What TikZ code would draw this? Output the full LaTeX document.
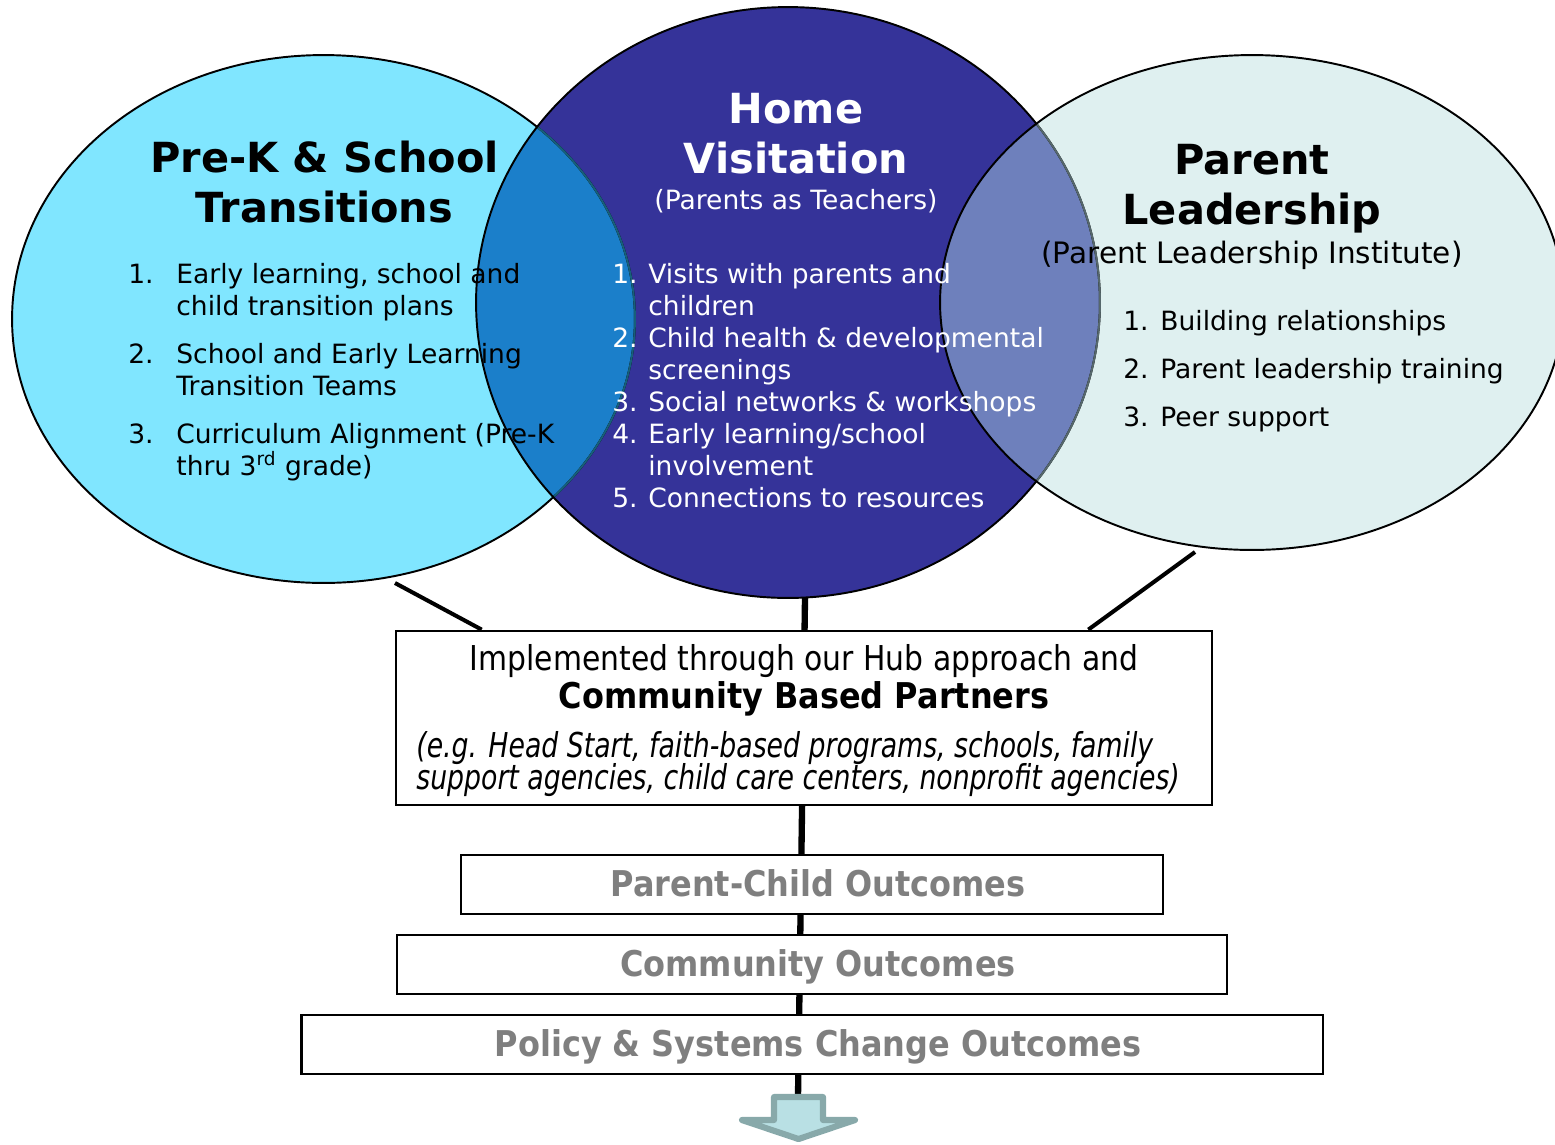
\documentclass[tikz,border=0pt]{standalone}
\usepackage{fontspec}
\setmainfont{DejaVu Sans}
\newfontfamily\hubfont[FakeStretch=0.87]{DejaVu Sans}
\newfontfamily\hubboldfont[FakeStretch=0.9]{DejaVu Sans}
\newfontfamily\hubitfont[FakeStretch=0.78]{DejaVu Sans}
\usepackage{tikz}
\usetikzlibrary{calc}
\pgfdeclarelayer{background}
\pgfsetlayers{background,main}

\definecolor{prekfill}{HTML}{80E6FF}
\definecolor{homefill}{HTML}{353399}
\definecolor{leadfill}{HTML}{DFF0F0}
\definecolor{prekhome}{HTML}{1B7FCA}
\definecolor{homelead}{HTML}{6E80BC}
\definecolor{prekedge}{HTML}{17607A}
\definecolor{homeedge}{HTML}{56686C}
\definecolor{outgray}{HTML}{7F7F7F}
\definecolor{arrowfill}{HTML}{B9E0E4}
\definecolor{arrowedge}{HTML}{88A9AA}

\tikzset{
  title/.style={anchor=base,inner sep=0pt,font=\bfseries\fontsize{23.6}{28}\selectfont},
  sub/.style={anchor=base,inner sep=0pt,font=\fontsize{15.1}{18}\selectfont},
  num/.style={anchor=base west,inner sep=0pt,font=\fontsize{15.1}{18}\selectfont},
  item/.style={anchor=base west,inner sep=0pt,font=\fontsize{15.1}{18}\selectfont},
  hubline/.style={anchor=base,inner sep=0pt,font=\hubfont\fontsize{19.5}{22}\selectfont},
  hubitline/.style={anchor=base west,inner sep=0pt,font=\hubitfont\itshape\fontsize{19.5}{22}\selectfont},
  hubbox/.style={draw,line width=1.6pt,fill=white,inner sep=0pt,
    minimum width=16.32cm,minimum height=3.48cm},
  outbox/.style={draw,line width=1.6pt,fill=white,inner sep=0pt,minimum height=1.18cm},
  outtext/.style={anchor=base,inner sep=0pt,text=outgray,
    font=\hubboldfont\bfseries\fontsize{20.2}{24}\selectfont},
  link/.style={line width=2.3pt},
  spine/.style={line width=3.6pt}
}

\begin{document}
\begin{tikzpicture}[x=0.02cm,y=-0.02cm]
\useasboundingbox (0,0) rectangle (1555,1144);
\clip (0,0) rectangle (1555,1144);

% the three circles
\fill[prekfill] (323.5,319) ellipse [x radius=6.23cm, y radius=5.28cm];
\fill[homefill] (788,302.5) ellipse [x radius=6.24cm, y radius=5.91cm];
\fill[leadfill] (1252,302.5) ellipse [x radius=6.24cm, y radius=4.95cm];
\begin{scope}
  \clip (323.5,319) ellipse [x radius=6.23cm, y radius=5.28cm];
  \fill[prekhome] (788,302.5) ellipse [x radius=6.24cm, y radius=5.91cm];
\end{scope}
\begin{scope}
  \clip (1252,302.5) ellipse [x radius=6.24cm, y radius=4.95cm];
  \fill[homelead] (788,302.5) ellipse [x radius=6.24cm, y radius=5.91cm];
\end{scope}
\draw[line width=1.1pt] (323.5,319) ellipse [x radius=6.23cm, y radius=5.28cm];
\begin{scope}
  \clip (788,302.5) ellipse [x radius=6.24cm, y radius=5.91cm];
  \draw[prekedge,line width=1.1pt] (323.5,319) ellipse [x radius=6.23cm, y radius=5.28cm];
\end{scope}
\draw[line width=1.1pt] (788,302.5) ellipse [x radius=6.24cm, y radius=5.91cm];
\begin{scope}
  \clip (1252,302.5) ellipse [x radius=6.24cm, y radius=4.95cm];
  \draw[homeedge,line width=1.1pt] (788,302.5) ellipse [x radius=6.24cm, y radius=5.91cm];
\end{scope}
\draw[line width=1.1pt] (1252,302.5) ellipse [x radius=6.24cm, y radius=4.95cm];

% Pre-K circle
\node[title] (prektitle1) at (324.5,172) {Pre-K \& School};
\node[title] (prektitle2) at (324.5,222) {Transitions};
\node[num] (prekn1) at (128,283) {1.};
\node[item] (prek1a) at (176,283) {Early learning, school and};
\node[item] (prek1b) at (176,315) {child transition plans};
\node[num] (prekn2) at (128,363) {2.};
\node[item] (prek2a) at (176,363) {School and Early Learning};
\node[item] (prek2b) at (176,395) {Transition Teams};
\node[num] (prekn3) at (128,443) {3.};
\node[item] (prek3a) at (176,443) {Curriculum Alignment (Pre-K};
\node[item] (prek3b) at (176,475) {thru 3\textsuperscript{rd} grade)};

% Home circle
\begin{scope}[text=white]
\node[title] (hometitle1) at (796,123) {Home};
\node[title] (hometitle2) at (796,173) {Visitation};
\node[sub] (homesub) at (796,209) {(Parents as Teachers)};
\node[num] (homen1) at (612,283) {1.};
\node[item] (home1a) at (648,283) {Visits with parents and};
\node[item] (home1b) at (648,315) {children};
\node[num] (homen2) at (612,347) {2.};
\node[item] (home2a) at (648,347) {Child health \& developmental};
\node[item] (home2b) at (648,379) {screenings};
\node[num] (homen3) at (612,411) {3.};
\node[item] (home3a) at (648,411) {Social networks \& workshops};
\node[num] (homen4) at (612,443) {4.};
\node[item] (home4a) at (648,443) {Early learning/school};
\node[item] (home4b) at (648,475) {involvement};
\node[num] (homen5) at (612,507) {5.};
\node[item] (home5a) at (648,507) {Connections to resources};
\end{scope}

% Leadership circle
\node[title] (leadtitle1) at (1252,174) {Parent};
\node[title] (leadtitle2) at (1252,224) {Leadership};
\node[sub,font=\fontsize{16.8}{20}\selectfont] (leadsub) at (1252,263) {(Parent Leadership Institute)};
\node[num] (leadn1) at (1123,330) {1.};
\node[item] (lead1a) at (1160,330) {Building relationships};
\node[num] (leadn2) at (1123,378) {2.};
\node[item] (lead2a) at (1160,378) {Parent leadership training};
\node[num] (leadn3) at (1123,426) {3.};
\node[item] (lead3a) at (1160,426) {Peer support};

% hub and outcomes
\node[hubbox] (hub) at (804,718) {};
\node[hubline] (hubtext1) at (804,670) {Implemented through our Hub approach and};
\node[hubline,font=\hubboldfont\bfseries\fontsize{20.2}{24}\selectfont] (hubtext2) at (804,708) {Community Based Partners};
\node[hubitline] (hubtext3) at (416,757) {(e.g. Head Start, faith-based programs, schools, family};
\node[hubitline] (hubtext4) at (416,789) {support agencies, child care centers, nonprofit agencies)};

\node[outbox,minimum width=14.04cm] (parentchild) at (812,884.5) {};
\node[outbox,minimum width=16.6cm] (community) at (812,964.5) {};
\node[outbox,minimum width=20.44cm] (policy) at (812,1044.5) {};
\node[outtext] (parentchildtext) at (818,896) {Parent-Child Outcomes};
\node[outtext] (communitytext) at (818,976) {Community Outcomes};
\node[outtext] (policytext) at (818,1056) {Policy \& Systems Change Outcomes};

% connectors
\coordinate (prekfoot) at (395,583);
\coordinate (homefoot) at (805,598);
\coordinate (leadfoot) at (1195,552);
\coordinate (arrowtop) at (798,1097);
\draw[link] (prekfoot) -- ($(hub.north west)+(87,0)$);
\draw[link] (leadfoot) -- ($(hub.north east)+(-125,0)$);
\begin{pgfonlayer}{background}
  \draw[spine] (homefoot) -- (arrowtop);
\end{pgfonlayer}

% arrow at the bottom
\filldraw[fill=arrowfill,draw=arrowedge,line width=3.5pt,line join=round]
  (774,1097) -- (823,1097) -- (823,1120) -- (855,1120) -- (798.5,1139)
  -- (742,1120) -- (774,1120) -- cycle;
\end{tikzpicture}
\end{document}
